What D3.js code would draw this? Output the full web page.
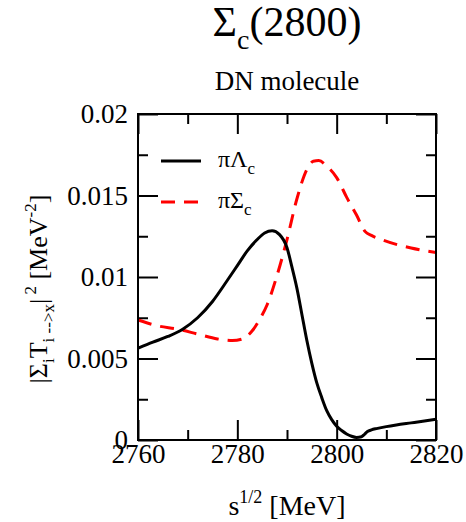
<!DOCTYPE html>
<html lang="en">
<head>
    <meta charset="UTF-8">
    <title>Sigma_c(2800) DN molecule</title>
    <script src="https://d3js.org/d3.v7.min.js"></script>
    <style>
        body { margin: 0; background: #fff; }
        svg, svg text { font-family: "Liberation Serif"; fill: #000; }
    </style>
</head>
<body>
    <div id="graph"></div>

    <script>
        // pi Lambda_c channel (solid black)
        const sLambda = [2760, 2763, 2766, 2769, 2772, 2775, 2778, 2780, 2782, 2784, 2785.5, 2787, 2788.5, 2790, 2791, 2792, 2793, 2794, 2795, 2796, 2797, 2798, 2799, 2800, 2801, 2802, 2803, 2804, 2805, 2805.6, 2806.2, 2807, 2808, 2810, 2812, 2815, 2818, 2820];
        const vLambda = [0.00563, 0.0060, 0.00635, 0.0068, 0.0075, 0.0085, 0.0098, 0.0107, 0.0116, 0.0123, 0.0127, 0.01284, 0.0126, 0.0118, 0.0106, 0.0093, 0.0077, 0.0061, 0.0047, 0.0035, 0.0026, 0.0018, 0.00125, 0.00085, 0.00058, 0.00037, 0.00023, 0.00016, 0.0002, 0.00035, 0.00052, 0.00062, 0.0007, 0.00082, 0.00092, 0.00105, 0.00118, 0.00127];

        // pi Sigma_c channel (dashed red)
        const sSigma = [2760, 2764, 2768, 2772, 2776, 2779, 2781, 2783, 2784.5, 2786, 2788, 2790, 2792, 2794, 2795.3, 2796.4, 2798, 2800, 2802, 2804, 2805.7, 2807, 2809, 2812, 2815, 2818, 2820];
        const vSigma = [0.00736, 0.0070, 0.0068, 0.0065, 0.0062, 0.0061, 0.0062, 0.0067, 0.0074, 0.0083, 0.0101, 0.0123, 0.0148, 0.0166, 0.0171, 0.01714, 0.0168, 0.0161, 0.0149, 0.0138, 0.0128, 0.01255, 0.0123, 0.0120, 0.01178, 0.0116, 0.0115];

        const xTicks = [2760, 2780, 2800, 2820];
        const xMinor = [2770, 2790, 2810];
        const yTicks = [0, 0.005, 0.01, 0.015, 0.02];
        const yMinor = [0.0025, 0.0075, 0.0125, 0.0175];
        const yTickLabels = ["0", "0.005", "0.01", "0.015", "0.02"];

        const W = 466, H = 522;
        const margin = {top: 114, right: 30, bottom: 82, left: 138},
            width = W - margin.left - margin.right,
            height = H - margin.top - margin.bottom;
        const serif = "Liberation Serif";

        const root = d3.select("#graph").append("svg")
            .attr("width", W)
            .attr("height", H)
            .attr("font-family", serif);

        const svg = root.append("g")
            .attr("transform", "translate(" + margin.left + "," + margin.top + ")");

        const xScale = d3.scaleLinear().domain([2760, 2820]).range([0, width]);
        const yScale = d3.scaleLinear().domain([0, 0.02]).range([height, 0]);

        // ticks, all pointing inward
        function styleAxis(g) {
            g.attr("font-family", serif).attr("font-size", 27);
            g.select(".domain").remove();
            g.selectAll(".tick line").attr("stroke", "#000").attr("stroke-width", 2);
        }

        svg.append("g")
            .attr("transform", "translate(0," + height + ")")
            .call(d3.axisBottom(xScale).tickValues(xTicks).tickSize(-20).tickPadding(4).tickFormat(d3.format("d")))
            .call(styleAxis);
        svg.append("g")
            .attr("transform", "translate(0," + height + ")")
            .call(d3.axisBottom(xScale).tickValues(xMinor).tickSize(-10).tickFormat(""))
            .call(styleAxis);
        svg.append("g")
            .call(d3.axisTop(xScale).tickValues(xTicks).tickSize(-20).tickFormat(""))
            .call(styleAxis);
        svg.append("g")
            .call(d3.axisTop(xScale).tickValues(xMinor).tickSize(-10).tickFormat(""))
            .call(styleAxis);

        svg.append("g")
            .call(d3.axisLeft(yScale).tickValues(yTicks).tickSize(-20).tickPadding(10).tickFormat((d, i) => yTickLabels[i]))
            .call(styleAxis);
        svg.append("g")
            .call(d3.axisLeft(yScale).tickValues(yMinor).tickSize(-10).tickFormat(""))
            .call(styleAxis);
        svg.append("g")
            .attr("transform", "translate(" + width + ",0)")
            .call(d3.axisRight(yScale).tickValues(yTicks).tickSize(-20).tickFormat(""))
            .call(styleAxis);
        svg.append("g")
            .attr("transform", "translate(" + width + ",0)")
            .call(d3.axisRight(yScale).tickValues(yMinor).tickSize(-10).tickFormat(""))
            .call(styleAxis);

        // curves
        const line = d3.line()
            .x(d => xScale(d[0]))
            .y(d => yScale(d[1]))
            .curve(d3.curveMonotoneX);

        svg.append("path")
            .datum(d3.zip(sSigma, vSigma))
            .attr("d", line)
            .style("stroke", "#ff0000")
            .style("stroke-width", 3)
            .style("stroke-dasharray", "14,9")
            .style("fill", "none");

        svg.append("path")
            .datum(d3.zip(sLambda, vLambda))
            .attr("d", line)
            .style("stroke", "#000")
            .style("stroke-width", 3)
            .style("fill", "none");

        // frame
        svg.append("rect")
            .attr("width", width)
            .attr("height", height)
            .style("fill", "none")
            .style("stroke", "#000")
            .style("stroke-width", 2);

        // legend
        const legend = [
            {name: "\u03C0\u039B", color: "#000", dash: null, y: 47},
            {name: "\u03C0\u03A3", color: "#ff0000", dash: "14,9", y: 88}
        ];
        legend.forEach(d => {
            svg.append("line")
                .attr("x1", 23).attr("x2", 63)
                .attr("y1", d.y).attr("y2", d.y)
                .style("stroke", d.color)
                .style("stroke-width", 3)
                .style("stroke-dasharray", d.dash);
            const t = svg.append("text")
                .attr("x", 80).attr("y", d.y + 6)
                .style("font-size", "24px");
            t.append("tspan").text(d.name);
            t.append("tspan").attr("dy", 7).style("font-size", "17px").text("c");
        });

        // title
        const cx = margin.left + width / 2;
        const title = root.append("text")
            .attr("x", cx).attr("y", 36)
            .attr("text-anchor", "middle")
            .style("font-size", "42px");
        title.append("tspan").text("\u03A3");
        title.append("tspan").attr("dy", 13).style("font-size", "28px").text("c");
        title.append("tspan").attr("dy", -13).text("(2800)");

        root.append("text")
            .attr("x", cx).attr("y", 90)
            .attr("text-anchor", "middle")
            .style("font-size", "27px")
            .text("DN molecule");

        // x label
        const xl = root.append("text")
            .attr("x", cx).attr("y", 515)
            .attr("text-anchor", "middle")
            .style("font-size", "28px");
        xl.append("tspan").text("s");
        xl.append("tspan").attr("dy", -12).style("font-size", "18px").text("1/2");
        xl.append("tspan").attr("dy", 12).text(" [MeV]");

        // y label
        const yl = root.append("text")
            .attr("transform", "translate(47," + (margin.top + height / 2 + 12) + ") rotate(-90)")
            .attr("text-anchor", "middle")
            .style("font-size", "26px");
        yl.append("tspan").text("|\u03A3");
        yl.append("tspan").attr("dy", 7).style("font-size", "17px").text("i");
        yl.append("tspan").attr("dy", -7).text("T");
        yl.append("tspan").attr("dy", 7).style("font-size", "17px").text("i -->x");
        yl.append("tspan").attr("dy", -7).text("|");
        yl.append("tspan").attr("dy", -11).style("font-size", "17px").text("  2");
        yl.append("tspan").attr("dy", 11).text(" [MeV");
        yl.append("tspan").attr("dy", -11).style("font-size", "17px").text("-2");
        yl.append("tspan").attr("dy", 11).text("]");
    </script>
</body>
</html>
